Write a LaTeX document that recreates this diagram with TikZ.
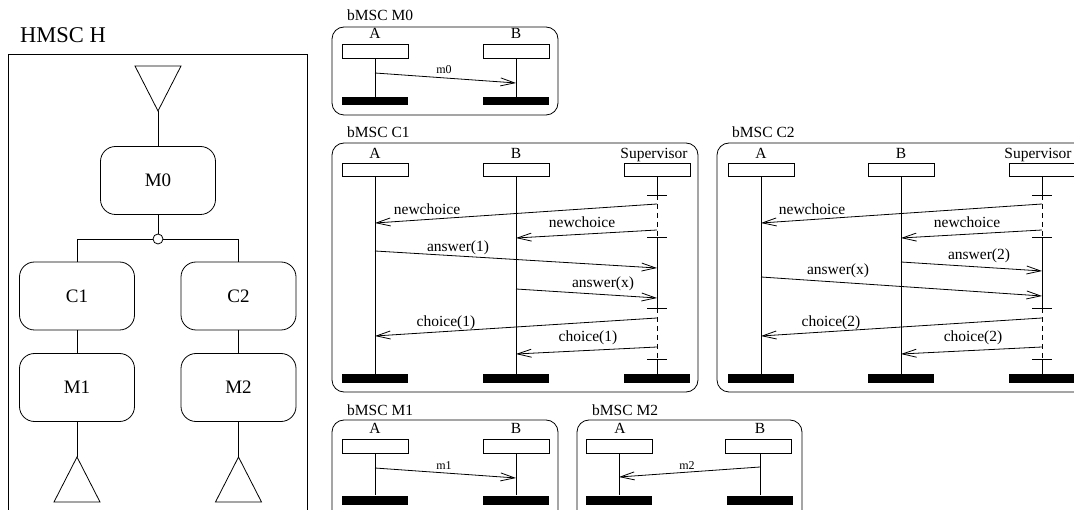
\documentclass[tikz,border=0pt]{standalone}
\usepackage{fontspec}
\setmainfont{Liberation Serif}
\usetikzlibrary{arrows.meta}
\newcommand{\labfont}{\fontsize{15.5}{18}\selectfont}
\newcommand{\msgsmall}{\fontsize{12}{14}\selectfont}
\newcommand{\bigfont}{\fontsize{22.5}{26}\selectfont}
\newcommand{\boxfont}{\fontsize{19}{22}\selectfont}
\begin{document}
\begin{tikzpicture}[x=1pt,y=-1pt,
  ln/.style={line width=0.8pt},
  hnode/.style={draw, line width=0.8pt, rounded corners=15pt, minimum width=115pt, minimum height=68pt, inner sep=0pt, font=\boxfont},
  hbox/.style={draw, line width=0.8pt, minimum width=66pt, minimum height=13.5pt, inner sep=0pt},
  ebar/.style={fill=black, minimum width=66pt, minimum height=9pt, inner sep=0pt},
  ilabel/.style={font=\labfont, anchor=base, inner sep=0pt},
  mlabel/.style={font=\labfont, anchor=base, inner sep=0pt},
  slabel/.style={font=\msgsmall, anchor=base, inner sep=0pt},
  ttl/.style={font=\labfont, anchor=base west, inner sep=0pt},
  frm/.style={line width=0.8pt, rounded corners=12pt},
  msg/.style={line width=0.8pt, -{Straight Barb[length=14pt,width=8pt,line width=0.8pt]}},
  dsh/.style={line width=0.8pt, dash pattern=on 5pt off 4pt}
]
\useasboundingbox (0,0) rectangle (1074,510);
\clip (0,0) rectangle (1074,510);

% ================= HMSC H =================
\node[font=\bigfont, anchor=base west, inner sep=0pt] (htitle) at (20,43) {HMSC H};
\draw[ln] (8,520) -- (8,54) -- (307,54) -- (307,520);
\coordinate (hstart) at (158,111);
\draw[ln] (135,66) -- (181,66) -- (hstart) -- cycle;
\node[hnode] (hM0) at (158,180.5) {M0};
\node[circle, draw, line width=0.8pt, minimum size=10pt, inner sep=0pt] (halt) at (158,239) {};
\node[hnode] (hC1) at (77,296) {C1};
\node[hnode] (hC2) at (238.5,296) {C2};
\node[hnode] (hM1) at (77,387.5) {M1};
\node[hnode] (hM2) at (238.5,387.5) {M2};
\coordinate (hend1) at (77,457);
\coordinate (hend2) at (238.5,457);
\draw[ln] (hend1) -- (54,502) -- (100,502) -- cycle;
\draw[ln] (hend2) -- (215.5,502) -- (261.5,502) -- cycle;
\draw[ln] (hstart) -- (hM0);
\draw[ln] (hM0) -- (halt);
\draw[ln] (halt.west) -| (hC1.north);
\draw[ln] (halt.east) -| (hC2.north);
\draw[ln] (hC1) -- (hM1);
\draw[ln] (hC2) -- (hM2);
\draw[ln] (hM1) -- (hend1);
\draw[ln] (hM2) -- (hend2);

% ================= bMSC M0 =================
\draw[frm] (332,27) rectangle (558,115);
\node[ttl] (tM0) at (347,21) {bMSC M0};
\node[hbox] (m0A) at (375,51.5) {};
\node[ilabel] (m0Al) at (375,39) {A};
\node[hbox] (m0B) at (516,51.5) {};
\node[ilabel] (m0Bl) at (516,39) {B};
\node[ebar, minimum height=8pt] (m0Ae) at (375,101) {};
\node[ebar, minimum height=8pt] (m0Be) at (516,101) {};
\draw[ln] (m0A) -- (m0Ae);
\draw[ln] (m0B) -- (m0Be);
\coordinate (m0s) at (375,73);
\coordinate (m0r) at (516,83);
\draw[msg] (m0s) -- (m0r);
\node[slabel] (m0l) at (444,74) {m0};

% ================= bMSC C1 =================
\draw[frm] (332,143) rectangle (698,392);
\node[ttl] (tC1) at (347,138) {bMSC C1};
\node[hbox] (c1A) at (375,170) {};
\node[hbox] (c1B) at (516,170) {};
\node[hbox] (c1S) at (657,170) {};
\node[ilabel] (c1Al) at (375,159) {A};
\node[ilabel] (c1Bl) at (516,159) {B};
\node[ilabel] (c1Sl) at (654,159) {Supervisor};
\node[ebar] (c1Ae) at (375,378.5) {};
\node[ebar] (c1Be) at (516,378.5) {};
\node[ebar] (c1Se) at (657,378.5) {};
\draw[ln] (c1A) -- (c1Ae);
\draw[ln] (c1B) -- (c1Be);
\coordinate (c1t1) at (657,195);
\coordinate (c1t2) at (657,237);
\coordinate (c1t3) at (657,308);
\coordinate (c1t4) at (657,359);
\draw[ln] (c1S.south) -- (c1t1);
\draw[dsh] (c1t1) -- (c1t2);
\draw[ln] (c1t2) -- (c1t3);
\draw[dsh] (c1t3) -- (c1t4);
\draw[ln] (c1t4) -- (c1Se.north);
\foreach \t in {c1t1,c1t2,c1t3,c1t4} \draw[ln] (\t) ++(-10,0) -- ++(20,0);
% messages
\coordinate (c1m1s) at (657,204);  \coordinate (c1m1r) at (375,223);
\coordinate (c1m2s) at (657,230);  \coordinate (c1m2r) at (516,238);
\coordinate (c1m3s) at (375,251);  \coordinate (c1m3r) at (657,268);
\coordinate (c1m4s) at (516,289);  \coordinate (c1m4r) at (657,298);
\coordinate (c1m5s) at (657,318);  \coordinate (c1m5r) at (375,336);
\coordinate (c1m6s) at (657,347);  \coordinate (c1m6r) at (516,354);
\draw[msg] (c1m1s) -- (c1m1r);
\draw[msg] (c1m2s) -- (c1m2r);
\draw[msg] (c1m3s) -- (c1m3r);
\draw[msg] (c1m4s) -- (c1m4r);
\draw[msg] (c1m5s) -- (c1m5r);
\draw[msg] (c1m6s) -- (c1m6r);
\node[mlabel] (c1l1) at (427,215) {newchoice};
\node[mlabel] (c1l2) at (582,228) {newchoice};
\node[mlabel] (c1l3) at (458,252) {answer(1)};
\node[mlabel] (c1l4) at (603,288) {answer(x)};
\node[mlabel] (c1l5) at (446,327) {choice(1)};
\node[mlabel] (c1l6) at (588,342) {choice(1)};

% ================= bMSC C2 =================
\draw[frm] (717,143) rectangle (1100,392);
\node[ttl] (tC2) at (732,138) {bMSC C2};
\node[hbox] (c2A) at (761,170) {};
\node[hbox] (c2B) at (901,170) {};
\node[hbox] (c2S) at (1042,170) {};
\node[ilabel] (c2Al) at (761,159) {A};
\node[ilabel] (c2Bl) at (901,159) {B};
\node[ilabel] (c2Sl) at (1038,159) {Supervisor};
\node[ebar] (c2Ae) at (761,378.5) {};
\node[ebar] (c2Be) at (901,378.5) {};
\node[ebar] (c2Se) at (1042,378.5) {};
\draw[ln] (c2A) -- (c2Ae);
\draw[ln] (c2B) -- (c2Be);
\coordinate (c2t1) at (1042,195);
\coordinate (c2t2) at (1042,237);
\coordinate (c2t3) at (1042,308);
\coordinate (c2t4) at (1042,359);
\draw[ln] (c2S.south) -- (c2t1);
\draw[dsh] (c2t1) -- (c2t2);
\draw[ln] (c2t2) -- (c2t3);
\draw[dsh] (c2t3) -- (c2t4);
\draw[ln] (c2t4) -- (c2Se.north);
\foreach \t in {c2t1,c2t2,c2t3,c2t4} \draw[ln] (\t) ++(-10,0) -- ++(20,0);
\coordinate (c2m1s) at (1042,204); \coordinate (c2m1r) at (761,223);
\coordinate (c2m2s) at (1042,230); \coordinate (c2m2r) at (901,238);
\coordinate (c2m3s) at (901,262);  \coordinate (c2m3r) at (1042,271);
\coordinate (c2m4s) at (761,277);  \coordinate (c2m4r) at (1042,296);
\coordinate (c2m5s) at (1042,318); \coordinate (c2m5r) at (761,336);
\coordinate (c2m6s) at (1042,347); \coordinate (c2m6r) at (901,354);
\draw[msg] (c2m1s) -- (c2m1r);
\draw[msg] (c2m2s) -- (c2m2r);
\draw[msg] (c2m3s) -- (c2m3r);
\draw[msg] (c2m4s) -- (c2m4r);
\draw[msg] (c2m5s) -- (c2m5r);
\draw[msg] (c2m6s) -- (c2m6r);
\node[mlabel] (c2l1) at (812,215) {newchoice};
\node[mlabel] (c2l2) at (967,228) {newchoice};
\node[mlabel] (c2l3) at (979,260) {answer(2)};
\node[mlabel] (c2l4) at (838,275) {answer(x)};
\node[mlabel] (c2l5) at (831,327) {choice(2)};
\node[mlabel] (c2l6) at (973,342) {choice(2)};

% ================= bMSC M1 =================
\draw[frm] (332,420) rectangle (558,530);
\node[ttl] (tM1) at (347,416) {bMSC M1};
\node[hbox] (m1A) at (375,446.5) {};
\node[hbox] (m1B) at (516,446.5) {};
\node[ilabel] (m1Al) at (375,434) {A};
\node[ilabel] (m1Bl) at (516,434) {B};
\node[ebar] (m1Ae) at (375,500) {};
\node[ebar] (m1Be) at (516,500) {};
\draw[ln] (m1A) -- (m1Ae);
\draw[ln] (m1B) -- (m1Be);
\coordinate (m1s) at (375,468);
\coordinate (m1r) at (516,478);
\draw[msg] (m1s) -- (m1r);
\node[slabel] (m1l) at (444,469) {m1};

% ================= bMSC M2 =================
\draw[frm] (577,420) rectangle (802,530);
\node[ttl] (tM2) at (592,416) {bMSC M2};
\node[hbox] (m2A) at (619,446.5) {};
\node[hbox] (m2B) at (758,446.5) {};
\node[ilabel] (m2Al) at (620,434) {A};
\node[ilabel] (m2Bl) at (760,434) {B};
\node[ebar] (m2Ae) at (619,500) {};
\node[ebar] (m2Be) at (760,500) {};
\draw[ln] (m2A) -- (m2Ae);
\draw[ln] (m2B.south -| m2Be) -- (m2Be);
\coordinate (m2s) at (760,467);
\coordinate (m2r) at (619,477);
\draw[msg] (m2s) -- (m2r);
\node[slabel] (m2l) at (687,469) {m2};
\end{tikzpicture}
\end{document}
